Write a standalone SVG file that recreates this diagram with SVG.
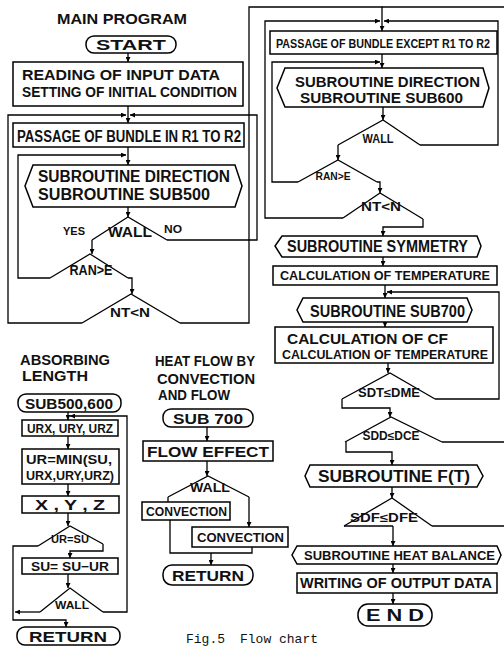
<svg xmlns="http://www.w3.org/2000/svg" width="504" height="646" viewBox="0 0 504 646">
<defs>
<marker id="ah" viewBox="0 0 8 8" refX="8" refY="4" markerWidth="5" markerHeight="5" orient="auto" markerUnits="userSpaceOnUse"><path d="M0,0 L8,4 L0,8 z" fill="#000"/></marker>
<style>
.ln{fill:none;stroke:#000;stroke-width:1.3}
.ar{fill:none;stroke:#000;stroke-width:1.3;marker-end:url(#ah)}
.bx{fill:#fff;stroke:#000;stroke-width:1.5}
text{font-family:"Liberation Sans",Arial,sans-serif;font-weight:bold;fill:#111}
.m{text-anchor:middle}
.cap{font-family:"Liberation Mono","Courier New",monospace;font-weight:normal;font-size:13px}
</style>
</defs>
<rect width="504" height="646" fill="#fff"/>

<g id="connectors">
<path class="ar" d="M128,53 V62"/>
<path class="ar" d="M128,106 V123"/>
<path class="ar" d="M82,323 H8 V115 H126"/>
<path class="ar" d="M167,240 H257 V115 H130"/>
<path class="ar" d="M128,147 V165"/>
<path class="ar" d="M50,278 H18 V155 H126"/>
<path class="ar" d="M128,207 V217"/>
<path class="ar" d="M92,240 V254"/>
<path class="ar" d="M128,278 H132 V294"/>
<path class="ar" d="M180,323 H249 V7 H382 V31"/>
<path class="ln" d="M382,7 H504"/>
<path class="ar" d="M343,218 H265 V21 H380"/>
<path class="ar" d="M420,145 H498 V21 H384"/>
<path class="ar" d="M382,54 V68"/>
<path class="ar" d="M298,182 H272 V62 H380"/>
<path class="ar" d="M383,107 V120"/>
<path class="ar" d="M338,145 V160"/>
<path class="ar" d="M377,182 H380 V193"/>
<path class="ar" d="M423,219 V227 H383 V236"/>
<path class="ar" d="M383,257 V266"/>
<path class="ar" d="M385,285 V298"/>
<path class="ar" d="M435,399 H499 V292 H387"/>
<path class="ar" d="M385,322 V327"/>
<path class="ar" d="M388,363 V373"/>
<path class="ar" d="M342,399 V408 H390 V417"/>
<path class="ln" d="M442,442 H504"/>
<path class="ar" d="M346,442 V452 H392 V465"/>
<path class="ar" d="M392,487 V498"/>
<path class="ln" d="M344,526 H393"/>
<path class="ln" d="M432,526 H504"/>
<path class="ar" d="M393,526 V546"/>
<path class="ar" d="M393,564 V573"/>
<path class="ar" d="M393,593 V604"/>
<path class="ar" d="M68,412 V420"/>
<path class="ar" d="M103,612 H127 V416 H70"/>
<path class="ar" d="M68,436 V449"/>
<path class="ar" d="M68,484 V496"/>
<path class="ar" d="M68,513 V526"/>
<path class="ar" d="M103,544 V551 H70 V558"/>
<path class="ar" d="M38,546 H13 V620 H66 V627"/>
<path class="ar" d="M68,574 V588"/>
<path class="ar" d="M40,612 H15"/>
<path class="ar" d="M207,427 V441"/>
<path class="ar" d="M207,461 V476"/>
<path class="ln" d="M168,497 V502"/>
<path class="ar" d="M249,497 V527"/>
<path class="ln" d="M170,520 V553 H252 V547"/>
<path class="ar" d="M211,553 V565"/>
</g>

<g id="title-main"><text x="122" y="24" class="m" font-size="14" textLength="130" lengthAdjust="spacingAndGlyphs">MAIN PROGRAM</text></g>
<g id="start"><rect class="bx" x="86" y="36" width="90" height="17" rx="8"/><text x="131" y="50" class="m" font-size="15" textLength="70" lengthAdjust="spacingAndGlyphs">START</text></g>
<g id="read"><rect class="bx" x="13" y="62" width="230" height="44"/>
<text x="22" y="80" font-size="15" textLength="198" lengthAdjust="spacingAndGlyphs">READING OF INPUT DATA</text>
<text x="22" y="97" font-size="15" textLength="215" lengthAdjust="spacingAndGlyphs">SETTING OF INITIAL CONDITION</text></g>
<g id="passage1"><rect class="bx" x="13" y="123" width="231" height="24"/><text x="17" y="142" font-size="16" textLength="224" lengthAdjust="spacingAndGlyphs">PASSAGE OF BUNDLE IN R1 TO R2</text></g>
<g id="sub500"><polygon class="bx" points="33,165 235,165 242,186 235,207 33,207 25,186"/>
<text x="38" y="182" font-size="16" textLength="192" lengthAdjust="spacingAndGlyphs">SUBROUTINE DIRECTION</text>
<text x="38" y="200" font-size="16" textLength="172" lengthAdjust="spacingAndGlyphs">SUBROUTINE SUB500</text></g>
<g id="wall1"><path class="ln" d="M92,240 L128,217 L167,240"/><text x="130" y="237" class="m" font-size="14" textLength="44" lengthAdjust="spacingAndGlyphs">WALL</text>
<text x="63" y="235" font-size="10" textLength="22" lengthAdjust="spacingAndGlyphs">YES</text><text x="164" y="233" font-size="10" textLength="18" lengthAdjust="spacingAndGlyphs">NO</text></g>
<g id="rane1"><path class="ln" d="M50,278 L90,254 L128,278"/><text x="91" y="275" class="m" font-size="14" textLength="43" lengthAdjust="spacingAndGlyphs">RAN&gt;E</text></g>
<g id="ntn1"><path class="ln" d="M82,323 L131,294 L180,323"/><text x="130" y="317" class="m" font-size="13" textLength="40" lengthAdjust="spacingAndGlyphs">NT&lt;N</text></g>

<g id="passage2"><rect class="bx" x="270" y="31" width="227" height="23"/><text x="276" y="47.5" font-size="12" textLength="214" lengthAdjust="spacingAndGlyphs">PASSAGE OF BUNDLE EXCEPT R1 TO R2</text></g>
<g id="sub600"><polygon class="bx" points="285,68 483,68 489,88 483,107 285,107 277,88"/>
<text x="295" y="87" font-size="15" textLength="185" lengthAdjust="spacingAndGlyphs">SUBROUTINE DIRECTION</text>
<text x="300" y="103" font-size="15" textLength="163" lengthAdjust="spacingAndGlyphs">SUBROUTINE SUB600</text></g>
<g id="wall2"><path class="ln" d="M338,145 L383,120 L420,145"/><text x="378" y="143" class="m" font-size="13" textLength="31" lengthAdjust="spacingAndGlyphs">WALL</text></g>
<g id="rane2"><path class="ln" d="M298,182 L338,160 L377,182"/><text x="333" y="180" class="m" font-size="11" textLength="35" lengthAdjust="spacingAndGlyphs">RAN&gt;E</text></g>
<g id="ntn2"><path class="ln" d="M343,218 L380,193 L423,219"/><text x="381" y="211" class="m" font-size="12" textLength="40" lengthAdjust="spacingAndGlyphs">NT&lt;N</text></g>
<g id="symmetry"><polygon class="bx" points="282,236 477,236 481,246 477,257 282,257 275,246"/><text x="287" y="252" font-size="16" textLength="181" lengthAdjust="spacingAndGlyphs">SUBROUTINE SYMMETRY</text></g>
<g id="calctemp"><rect class="bx" x="273" y="266" width="224" height="19"/><text x="280" y="280" font-size="13" textLength="210" lengthAdjust="spacingAndGlyphs">CALCULATION OF TEMPERATURE</text></g>
<g id="sub700"><polygon class="bx" points="303,298 467,298 472,310 467,322 303,322 297,310"/><text x="310" y="317" font-size="17" textLength="155" lengthAdjust="spacingAndGlyphs">SUBROUTINE SUB700</text></g>
<g id="calccf"><rect class="bx" x="275" y="327" width="218" height="36"/>
<text x="287" y="344" font-size="15" textLength="161" lengthAdjust="spacingAndGlyphs">CALCULATION OF CF</text>
<text x="282" y="359" font-size="13" textLength="206" lengthAdjust="spacingAndGlyphs">CALCULATION OF TEMPERATURE</text></g>
<g id="sdt"><path class="ln" d="M342,399 L390,373 L435,399"/><text x="389" y="397" class="m" font-size="12" textLength="62" lengthAdjust="spacingAndGlyphs">SDT≤DME</text></g>
<g id="sdd"><path class="ln" d="M345,442 L391,417 L442,442"/><text x="391" y="440" class="m" font-size="12" textLength="57" lengthAdjust="spacingAndGlyphs">SDD≤DCE</text></g>
<g id="ft"><polygon class="bx" points="310,465 477,465 483,476 477,487 310,487 305,476"/><text x="318" y="482" font-size="16" textLength="152" lengthAdjust="spacingAndGlyphs">SUBROUTINE F(T)</text></g>
<g id="sdf"><path class="ln" d="M344,526 L392,498 L432,526"/><text x="384" y="522" class="m" font-size="12" textLength="68" lengthAdjust="spacingAndGlyphs">SDF≤DFE</text></g>
<g id="heatbal"><polygon class="bx" points="297,546 497,546 501,555 497,564 297,564 292,555"/><text x="304" y="560" font-size="13" textLength="191" lengthAdjust="spacingAndGlyphs">SUBROUTINE HEAT BALANCE</text></g>
<g id="writing"><rect class="bx" x="297" y="573" width="200" height="20"/><text x="300" y="588" font-size="15" textLength="192" lengthAdjust="spacingAndGlyphs">WRITING OF OUTPUT DATA</text></g>
<g id="end"><rect class="bx" x="358" y="604" width="74" height="22" rx="10"/><text x="395" y="621" class="m" font-size="17" textLength="58" lengthAdjust="spacingAndGlyphs">E N D</text></g>

<g id="title-abs"><text x="20" y="365" font-size="14" textLength="90" lengthAdjust="spacingAndGlyphs">ABSORBING</text><text x="22" y="381" font-size="14" textLength="66" lengthAdjust="spacingAndGlyphs">LENGTH</text></g>
<g id="sub500-600"><rect class="bx" x="18" y="394" width="103" height="18" rx="8"/><text x="69" y="409" class="m" font-size="15" textLength="88" lengthAdjust="spacingAndGlyphs">SUB500,600</text></g>
<g id="urxyz"><rect class="bx" x="22" y="420" width="96" height="16"/><text x="70" y="433" class="m" font-size="12" textLength="86" lengthAdjust="spacingAndGlyphs">URX, URY, URZ</text></g>
<g id="urmin"><rect class="bx" x="22" y="449" width="97" height="35"/>
<text x="26" y="464" font-size="13" textLength="86" lengthAdjust="spacingAndGlyphs">UR=MIN(SU,</text>
<text x="26" y="480" font-size="12" textLength="88" lengthAdjust="spacingAndGlyphs">URX,URY,URZ)</text></g>
<g id="xyz"><rect class="bx" x="22" y="496" width="97" height="17"/><text x="70" y="510" class="m" font-size="15" textLength="70" lengthAdjust="spacingAndGlyphs">X , Y , Z</text></g>
<g id="ursu"><path class="ln" d="M38,546 L70,526 L103,544"/><text x="70" y="543" class="m" font-size="11" textLength="38" lengthAdjust="spacingAndGlyphs">UR=SU</text></g>
<g id="susu"><rect class="bx" x="22" y="558" width="96" height="16"/><text x="70" y="571" class="m" font-size="13" textLength="78" lengthAdjust="spacingAndGlyphs">SU= SU−UR</text></g>
<g id="wall3"><path class="ln" d="M40,612 L70,588 L103,612"/><text x="72" y="609" class="m" font-size="11" textLength="34" lengthAdjust="spacingAndGlyphs">WALL</text></g>
<g id="return1"><rect class="bx" x="17" y="627" width="103" height="18" rx="8"/><text x="68" y="642" class="m" font-size="15" textLength="78" lengthAdjust="spacingAndGlyphs">RETURN</text></g>

<g id="title-heat"><text x="155" y="366" font-size="14" textLength="100" lengthAdjust="spacingAndGlyphs">HEAT FLOW BY</text><text x="157" y="384" font-size="14" textLength="98" lengthAdjust="spacingAndGlyphs">CONVECTION</text><text x="158" y="400" font-size="14" textLength="72" lengthAdjust="spacingAndGlyphs">AND FLOW</text></g>
<g id="sub700t"><rect class="bx" x="163" y="409" width="90" height="18" rx="8"/><text x="208" y="424" class="m" font-size="15" textLength="70" lengthAdjust="spacingAndGlyphs">SUB 700</text></g>
<g id="floweffect"><rect class="bx" x="143" y="441" width="130" height="20"/><text x="147" y="457" font-size="15" textLength="122" lengthAdjust="spacingAndGlyphs">FLOW EFFECT</text></g>
<g id="wall4"><path class="ln" d="M168,497 L208,476 L249,497"/><text x="210" y="492" class="m" font-size="12" textLength="40" lengthAdjust="spacingAndGlyphs">WALL</text></g>
<g id="conv1"><rect class="bx" x="142" y="502" width="88" height="18"/><text x="146" y="516" font-size="13" textLength="81" lengthAdjust="spacingAndGlyphs">CONVECTION</text></g>
<g id="conv2"><rect class="bx" x="192" y="527" width="96" height="20"/><text x="197" y="542" font-size="13" textLength="87" lengthAdjust="spacingAndGlyphs">CONVECTION</text></g>
<g id="return2"><rect class="bx" x="163" y="565" width="90" height="20" rx="9"/><text x="208" y="581" class="m" font-size="15" textLength="72" lengthAdjust="spacingAndGlyphs">RETURN</text></g>

<g id="caption"><text class="cap" x="186" y="643">Fig.5</text><text class="cap" x="240" y="643">Flow chart</text></g>
</svg>
